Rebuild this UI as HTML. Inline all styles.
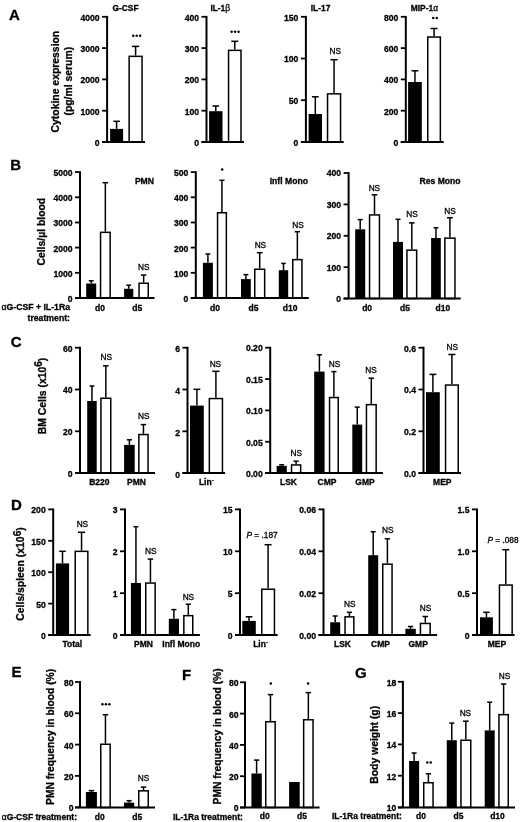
<!DOCTYPE html>
<html><head><meta charset="utf-8"><style>
html,body{margin:0;padding:0;background:#fff;overflow:hidden;width:520px;height:822px;}
svg{display:block;filter:blur(0.35px);}
</style></head><body>
<svg width="520" height="822" viewBox="0 0 520 822" font-family="'Liberation Sans', sans-serif" font-weight="bold" fill="#000" stroke="#000">
<g stroke="#000">
<text stroke="#000" stroke-width="0.3" x="14.5" y="19.82" text-anchor="middle" font-size="15">A</text>
<text stroke="#000" stroke-width="0.3" transform="translate(55.9,81.6) rotate(-90)" x="0" y="3.59" text-anchor="middle" font-size="10.4">Cytokine expression</text>
<text stroke="#000" stroke-width="0.3" transform="translate(68.8,81.2) rotate(-90)" x="0" y="3.59" text-anchor="middle" font-size="10.4">(pg/ml serum)</text>
<line x1="102.1" y1="16.8" x2="107.1" y2="16.8" stroke-width="1.8"/>
<text stroke="#000" stroke-width="0.3" x="99.6" y="20.77" text-anchor="end" font-size="8.6">4000</text>
<line x1="102.1" y1="48.1" x2="107.1" y2="48.1" stroke-width="1.8"/>
<text stroke="#000" stroke-width="0.3" x="99.6" y="52.07" text-anchor="end" font-size="8.6">3000</text>
<line x1="102.1" y1="79.4" x2="107.1" y2="79.4" stroke-width="1.8"/>
<text stroke="#000" stroke-width="0.3" x="99.6" y="83.37" text-anchor="end" font-size="8.6">2000</text>
<line x1="102.1" y1="110.7" x2="107.1" y2="110.7" stroke-width="1.8"/>
<text stroke="#000" stroke-width="0.3" x="99.6" y="114.67" text-anchor="end" font-size="8.6">1000</text>
<line x1="102.1" y1="142" x2="107.1" y2="142" stroke-width="1.8"/>
<text stroke="#000" stroke-width="0.3" x="99.6" y="145.97" text-anchor="end" font-size="8.6">0</text>
<line x1="116.6" y1="121.3" x2="116.6" y2="128.9" stroke-width="1.5"/>
<line x1="113.35" y1="121.3" x2="119.85" y2="121.3" stroke-width="1.5"/>
<rect x="110.1" y="128.9" width="13" height="13.1" fill="#000" stroke="none"/>
<line x1="135.6" y1="46.4" x2="135.6" y2="55.6" stroke-width="1.5"/>
<line x1="132" y1="46.4" x2="139.2" y2="46.4" stroke-width="1.5"/>
<rect x="129.15" y="56.35" width="12.9" height="85.65" fill="#fff" stroke-width="1.5"/>
<line x1="107.1" y1="15.9" x2="107.1" y2="142" stroke-width="2.0"/>
<line x1="102.1" y1="142" x2="145" y2="142" stroke-width="2.0"/>
<text stroke="#000" stroke-width="0.3" x="125.5" y="10.8" text-anchor="middle" font-size="8.4">G-CSF</text>
<circle cx="133.25" cy="35.8" r="1.25" stroke="none"/>
<circle cx="136.7" cy="35.8" r="1.25" stroke="none"/>
<circle cx="140.15" cy="35.8" r="1.25" stroke="none"/>
<line x1="201.5" y1="16.8" x2="206.5" y2="16.8" stroke-width="1.8"/>
<text stroke="#000" stroke-width="0.3" x="199" y="20.77" text-anchor="end" font-size="8.6">400</text>
<line x1="201.5" y1="48.1" x2="206.5" y2="48.1" stroke-width="1.8"/>
<text stroke="#000" stroke-width="0.3" x="199" y="52.07" text-anchor="end" font-size="8.6">300</text>
<line x1="201.5" y1="79.4" x2="206.5" y2="79.4" stroke-width="1.8"/>
<text stroke="#000" stroke-width="0.3" x="199" y="83.37" text-anchor="end" font-size="8.6">200</text>
<line x1="201.5" y1="110.7" x2="206.5" y2="110.7" stroke-width="1.8"/>
<text stroke="#000" stroke-width="0.3" x="199" y="114.67" text-anchor="end" font-size="8.6">100</text>
<line x1="201.5" y1="142" x2="206.5" y2="142" stroke-width="1.8"/>
<text stroke="#000" stroke-width="0.3" x="199" y="145.97" text-anchor="end" font-size="8.6">0</text>
<line x1="215.8" y1="106" x2="215.8" y2="111.2" stroke-width="1.5"/>
<line x1="212.45" y1="106" x2="219.15" y2="106" stroke-width="1.5"/>
<rect x="209.1" y="111.2" width="13.4" height="30.8" fill="#000" stroke="none"/>
<line x1="234.78" y1="41.3" x2="234.78" y2="49.6" stroke-width="1.5"/>
<line x1="231.29" y1="41.3" x2="238.26" y2="41.3" stroke-width="1.5"/>
<rect x="228.55" y="50.35" width="12.45" height="91.65" fill="#fff" stroke-width="1.5"/>
<line x1="206.5" y1="15.9" x2="206.5" y2="142" stroke-width="2.0"/>
<line x1="201.5" y1="142" x2="244" y2="142" stroke-width="2.0"/>
<text stroke="#000" stroke-width="0.3" x="210.4" y="10.8" text-anchor="start" font-size="8.4">IL-1<tspan font-weight="normal">β</tspan></text>
<circle cx="231.65" cy="31.8" r="1.25" stroke="none"/>
<circle cx="235.1" cy="31.8" r="1.25" stroke="none"/>
<circle cx="238.55" cy="31.8" r="1.25" stroke="none"/>
<line x1="300.9" y1="16.8" x2="305.9" y2="16.8" stroke-width="1.8"/>
<text stroke="#000" stroke-width="0.3" x="298.4" y="20.77" text-anchor="end" font-size="8.6">150</text>
<line x1="300.9" y1="58.5" x2="305.9" y2="58.5" stroke-width="1.8"/>
<text stroke="#000" stroke-width="0.3" x="298.4" y="62.47" text-anchor="end" font-size="8.6">100</text>
<line x1="300.9" y1="100.2" x2="305.9" y2="100.2" stroke-width="1.8"/>
<text stroke="#000" stroke-width="0.3" x="298.4" y="104.17" text-anchor="end" font-size="8.6">50</text>
<line x1="300.9" y1="142" x2="305.9" y2="142" stroke-width="1.8"/>
<text stroke="#000" stroke-width="0.3" x="298.4" y="145.97" text-anchor="end" font-size="8.6">0</text>
<line x1="315.3" y1="96.8" x2="315.3" y2="114" stroke-width="1.5"/>
<line x1="311.95" y1="96.8" x2="318.65" y2="96.8" stroke-width="1.5"/>
<rect x="308.6" y="114" width="13.4" height="28" fill="#000" stroke="none"/>
<line x1="334.05" y1="59.7" x2="334.05" y2="93.1" stroke-width="1.5"/>
<line x1="330.43" y1="59.7" x2="337.68" y2="59.7" stroke-width="1.5"/>
<rect x="327.55" y="93.85" width="13" height="48.15" fill="#fff" stroke-width="1.5"/>
<line x1="305.9" y1="15.9" x2="305.9" y2="142" stroke-width="2.0"/>
<line x1="300.9" y1="142" x2="343.7" y2="142" stroke-width="2.0"/>
<text stroke="#000" stroke-width="0.3" x="310.8" y="10.8" text-anchor="start" font-size="8.4">IL-17</text>
<text stroke="#000" stroke-width="0.3" x="335.2" y="54.26" text-anchor="middle" font-size="8.3" font-weight="normal">NS</text>
<line x1="400.8" y1="16.8" x2="405.8" y2="16.8" stroke-width="1.8"/>
<text stroke="#000" stroke-width="0.3" x="398.3" y="20.77" text-anchor="end" font-size="8.6">800</text>
<line x1="400.8" y1="48.1" x2="405.8" y2="48.1" stroke-width="1.8"/>
<text stroke="#000" stroke-width="0.3" x="398.3" y="52.07" text-anchor="end" font-size="8.6">600</text>
<line x1="400.8" y1="79.4" x2="405.8" y2="79.4" stroke-width="1.8"/>
<text stroke="#000" stroke-width="0.3" x="398.3" y="83.37" text-anchor="end" font-size="8.6">400</text>
<line x1="400.8" y1="110.7" x2="405.8" y2="110.7" stroke-width="1.8"/>
<text stroke="#000" stroke-width="0.3" x="398.3" y="114.67" text-anchor="end" font-size="8.6">200</text>
<line x1="400.8" y1="142" x2="405.8" y2="142" stroke-width="1.8"/>
<text stroke="#000" stroke-width="0.3" x="398.3" y="145.97" text-anchor="end" font-size="8.6">0</text>
<line x1="414.95" y1="70.8" x2="414.95" y2="82" stroke-width="1.5"/>
<line x1="411.53" y1="70.8" x2="418.38" y2="70.8" stroke-width="1.5"/>
<rect x="408.1" y="82" width="13.7" height="60" fill="#000" stroke="none"/>
<line x1="434.05" y1="28.5" x2="434.05" y2="36.3" stroke-width="1.5"/>
<line x1="430.52" y1="28.5" x2="437.58" y2="28.5" stroke-width="1.5"/>
<rect x="427.75" y="37.05" width="12.6" height="104.95" fill="#fff" stroke-width="1.5"/>
<line x1="405.8" y1="15.9" x2="405.8" y2="142" stroke-width="2.0"/>
<line x1="400.8" y1="142" x2="443.7" y2="142" stroke-width="2.0"/>
<text stroke="#000" stroke-width="0.3" x="410.8" y="10.8" text-anchor="start" font-size="8.4">MIP-1<tspan font-weight="normal">α</tspan></text>
<circle cx="433.27" cy="18" r="1.25" stroke="none"/>
<circle cx="436.72" cy="18" r="1.25" stroke="none"/>
<text stroke="#000" stroke-width="0.3" x="15.7" y="169.83" text-anchor="middle" font-size="15">B</text>
<text stroke="#000" stroke-width="0.3" transform="translate(41.7,231.7) rotate(-90)" x="0" y="3.59" text-anchor="middle" font-size="10.4">Cells/µl blood</text>
<line x1="75" y1="172.1" x2="80" y2="172.1" stroke-width="1.8"/>
<text stroke="#000" stroke-width="0.3" x="72.5" y="176.07" text-anchor="end" font-size="8.6">5000</text>
<line x1="75" y1="197.3" x2="80" y2="197.3" stroke-width="1.8"/>
<text stroke="#000" stroke-width="0.3" x="72.5" y="201.27" text-anchor="end" font-size="8.6">4000</text>
<line x1="75" y1="222.5" x2="80" y2="222.5" stroke-width="1.8"/>
<text stroke="#000" stroke-width="0.3" x="72.5" y="226.47" text-anchor="end" font-size="8.6">3000</text>
<line x1="75" y1="247.6" x2="80" y2="247.6" stroke-width="1.8"/>
<text stroke="#000" stroke-width="0.3" x="72.5" y="251.57" text-anchor="end" font-size="8.6">2000</text>
<line x1="75" y1="272.8" x2="80" y2="272.8" stroke-width="1.8"/>
<text stroke="#000" stroke-width="0.3" x="72.5" y="276.77" text-anchor="end" font-size="8.6">1000</text>
<line x1="75" y1="297.9" x2="80" y2="297.9" stroke-width="1.8"/>
<text stroke="#000" stroke-width="0.3" x="72.5" y="301.87" text-anchor="end" font-size="8.6">0</text>
<line x1="91.2" y1="280.8" x2="91.2" y2="283.5" stroke-width="1.5"/>
<line x1="88.7" y1="280.8" x2="93.7" y2="280.8" stroke-width="1.5"/>
<rect x="86.2" y="283.5" width="10" height="14.4" fill="#000" stroke="none"/>
<line x1="105.35" y1="182.7" x2="105.35" y2="231.6" stroke-width="1.5"/>
<line x1="102.57" y1="182.7" x2="108.12" y2="182.7" stroke-width="1.5"/>
<rect x="100.55" y="232.35" width="9.6" height="65.55" fill="#fff" stroke-width="1.5"/>
<line x1="128.7" y1="285.2" x2="128.7" y2="288.8" stroke-width="1.5"/>
<line x1="126.4" y1="285.2" x2="131" y2="285.2" stroke-width="1.5"/>
<rect x="124.1" y="288.8" width="9.2" height="9.1" fill="#000" stroke="none"/>
<line x1="143.65" y1="275.1" x2="143.65" y2="282.5" stroke-width="1.5"/>
<line x1="140.98" y1="275.1" x2="146.32" y2="275.1" stroke-width="1.5"/>
<rect x="139.05" y="283.25" width="9.2" height="14.65" fill="#fff" stroke-width="1.5"/>
<line x1="80" y1="171.2" x2="80" y2="297.9" stroke-width="2.0"/>
<line x1="75" y1="297.9" x2="154.5" y2="297.9" stroke-width="2.0"/>
<text stroke="#000" stroke-width="0.3" x="143.8" y="269.86" text-anchor="middle" font-size="8.3" font-weight="normal">NS</text>
<text stroke="#000" stroke-width="0.3" x="154" y="183.77" text-anchor="end" font-size="8.6">PMN</text>
<text stroke="#000" stroke-width="0.3" x="100" y="310.63" text-anchor="middle" font-size="8.5">d0</text>
<text stroke="#000" stroke-width="0.3" x="137.3" y="310.63" text-anchor="middle" font-size="8.5">d5</text>
<line x1="190.8" y1="172.1" x2="195.8" y2="172.1" stroke-width="1.8"/>
<text stroke="#000" stroke-width="0.3" x="188.3" y="176.07" text-anchor="end" font-size="8.6">500</text>
<line x1="190.8" y1="197.3" x2="195.8" y2="197.3" stroke-width="1.8"/>
<text stroke="#000" stroke-width="0.3" x="188.3" y="201.27" text-anchor="end" font-size="8.6">400</text>
<line x1="190.8" y1="222.5" x2="195.8" y2="222.5" stroke-width="1.8"/>
<text stroke="#000" stroke-width="0.3" x="188.3" y="226.47" text-anchor="end" font-size="8.6">300</text>
<line x1="190.8" y1="247.6" x2="195.8" y2="247.6" stroke-width="1.8"/>
<text stroke="#000" stroke-width="0.3" x="188.3" y="251.57" text-anchor="end" font-size="8.6">200</text>
<line x1="190.8" y1="272.8" x2="195.8" y2="272.8" stroke-width="1.8"/>
<text stroke="#000" stroke-width="0.3" x="188.3" y="276.77" text-anchor="end" font-size="8.6">100</text>
<line x1="190.8" y1="297.9" x2="195.8" y2="297.9" stroke-width="1.8"/>
<text stroke="#000" stroke-width="0.3" x="188.3" y="301.87" text-anchor="end" font-size="8.6">0</text>
<line x1="207.9" y1="254" x2="207.9" y2="262.8" stroke-width="1.5"/>
<line x1="205.4" y1="254" x2="210.4" y2="254" stroke-width="1.5"/>
<rect x="202.9" y="262.8" width="10" height="35.1" fill="#000" stroke="none"/>
<line x1="221.95" y1="180.3" x2="221.95" y2="212" stroke-width="1.5"/>
<line x1="219.38" y1="180.3" x2="224.52" y2="180.3" stroke-width="1.5"/>
<rect x="217.55" y="212.75" width="8.8" height="85.15" fill="#fff" stroke-width="1.5"/>
<line x1="245.9" y1="274.6" x2="245.9" y2="279.1" stroke-width="1.5"/>
<line x1="243.45" y1="274.6" x2="248.35" y2="274.6" stroke-width="1.5"/>
<rect x="241" y="279.1" width="9.8" height="18.8" fill="#000" stroke="none"/>
<line x1="259.7" y1="252.7" x2="259.7" y2="268.5" stroke-width="1.5"/>
<line x1="256.85" y1="252.7" x2="262.55" y2="252.7" stroke-width="1.5"/>
<rect x="254.75" y="269.25" width="9.9" height="28.65" fill="#fff" stroke-width="1.5"/>
<line x1="283.5" y1="263.4" x2="283.5" y2="270.2" stroke-width="1.5"/>
<line x1="281.15" y1="263.4" x2="285.85" y2="263.4" stroke-width="1.5"/>
<rect x="278.8" y="270.2" width="9.4" height="27.7" fill="#000" stroke="none"/>
<line x1="297.35" y1="231.7" x2="297.35" y2="258.9" stroke-width="1.5"/>
<line x1="294.68" y1="231.7" x2="300.03" y2="231.7" stroke-width="1.5"/>
<rect x="292.75" y="259.65" width="9.2" height="38.25" fill="#fff" stroke-width="1.5"/>
<line x1="195.8" y1="171.2" x2="195.8" y2="297.9" stroke-width="2.0"/>
<line x1="190.8" y1="297.9" x2="308.8" y2="297.9" stroke-width="2.0"/>
<circle cx="222.2" cy="169.5" r="1.25" stroke="none"/>
<text stroke="#000" stroke-width="0.3" x="260.4" y="248.36" text-anchor="middle" font-size="8.3" font-weight="normal">NS</text>
<text stroke="#000" stroke-width="0.3" x="298" y="228.06" text-anchor="middle" font-size="8.3" font-weight="normal">NS</text>
<text stroke="#000" stroke-width="0.3" x="307.9" y="184.37" text-anchor="end" font-size="8.6">Infl Mono</text>
<text stroke="#000" stroke-width="0.3" x="214.9" y="310.63" text-anchor="middle" font-size="8.5">d0</text>
<text stroke="#000" stroke-width="0.3" x="253.4" y="310.63" text-anchor="middle" font-size="8.5">d5</text>
<text stroke="#000" stroke-width="0.3" x="290.1" y="310.63" text-anchor="middle" font-size="8.5">d10</text>
<line x1="343.6" y1="173" x2="348.6" y2="173" stroke-width="1.8"/>
<text stroke="#000" stroke-width="0.3" x="341.1" y="176.37" text-anchor="end" font-size="8.6">400</text>
<line x1="343.6" y1="204.4" x2="348.6" y2="204.4" stroke-width="1.8"/>
<text stroke="#000" stroke-width="0.3" x="341.1" y="207.77" text-anchor="end" font-size="8.6">300</text>
<line x1="343.6" y1="235.8" x2="348.6" y2="235.8" stroke-width="1.8"/>
<text stroke="#000" stroke-width="0.3" x="341.1" y="239.17" text-anchor="end" font-size="8.6">200</text>
<line x1="343.6" y1="267.2" x2="348.6" y2="267.2" stroke-width="1.8"/>
<text stroke="#000" stroke-width="0.3" x="341.1" y="270.57" text-anchor="end" font-size="8.6">100</text>
<line x1="343.6" y1="298.5" x2="348.6" y2="298.5" stroke-width="1.8"/>
<text stroke="#000" stroke-width="0.3" x="341.1" y="301.87" text-anchor="end" font-size="8.6">0</text>
<line x1="360.2" y1="219.6" x2="360.2" y2="229.3" stroke-width="1.5"/>
<line x1="357.7" y1="219.6" x2="362.7" y2="219.6" stroke-width="1.5"/>
<rect x="355.2" y="229.3" width="10" height="69.2" fill="#000" stroke="none"/>
<line x1="374.5" y1="194.8" x2="374.5" y2="214.2" stroke-width="1.5"/>
<line x1="371.65" y1="194.8" x2="377.35" y2="194.8" stroke-width="1.5"/>
<rect x="369.55" y="214.95" width="9.9" height="83.55" fill="#fff" stroke-width="1.5"/>
<line x1="398" y1="219.3" x2="398" y2="241.9" stroke-width="1.5"/>
<line x1="395.5" y1="219.3" x2="400.5" y2="219.3" stroke-width="1.5"/>
<rect x="393" y="241.9" width="10" height="56.6" fill="#000" stroke="none"/>
<line x1="411.8" y1="222.9" x2="411.8" y2="249.4" stroke-width="1.5"/>
<line x1="409" y1="222.9" x2="414.6" y2="222.9" stroke-width="1.5"/>
<rect x="406.95" y="250.15" width="9.7" height="48.35" fill="#fff" stroke-width="1.5"/>
<line x1="435.95" y1="227.8" x2="435.95" y2="238" stroke-width="1.5"/>
<line x1="433.53" y1="227.8" x2="438.38" y2="227.8" stroke-width="1.5"/>
<rect x="431.1" y="238" width="9.7" height="60.5" fill="#000" stroke="none"/>
<line x1="449.9" y1="217.7" x2="449.9" y2="237.4" stroke-width="1.5"/>
<line x1="447" y1="217.7" x2="452.8" y2="217.7" stroke-width="1.5"/>
<rect x="444.85" y="238.15" width="10.1" height="60.35" fill="#fff" stroke-width="1.5"/>
<line x1="348.6" y1="172.1" x2="348.6" y2="298.5" stroke-width="2.0"/>
<line x1="343.6" y1="298.5" x2="460.7" y2="298.5" stroke-width="2.0"/>
<text stroke="#000" stroke-width="0.3" x="374.4" y="190.56" text-anchor="middle" font-size="8.3" font-weight="normal">NS</text>
<text stroke="#000" stroke-width="0.3" x="412" y="217.36" text-anchor="middle" font-size="8.3" font-weight="normal">NS</text>
<text stroke="#000" stroke-width="0.3" x="450" y="213.56" text-anchor="middle" font-size="8.3" font-weight="normal">NS</text>
<text stroke="#000" stroke-width="0.3" x="460.6" y="183.97" text-anchor="end" font-size="8.6">Res Mono</text>
<text stroke="#000" stroke-width="0.3" x="367.1" y="310.63" text-anchor="middle" font-size="8.5">d0</text>
<text stroke="#000" stroke-width="0.3" x="404.9" y="310.63" text-anchor="middle" font-size="8.5">d5</text>
<text stroke="#000" stroke-width="0.3" x="442.8" y="310.63" text-anchor="middle" font-size="8.5">d10</text>
<text stroke="#000" stroke-width="0.3" x="70" y="310.2" text-anchor="end" font-size="8.7"><tspan font-weight="normal">α</tspan>G-CSF + IL-1Ra</text>
<text stroke="#000" stroke-width="0.3" x="70" y="321.4" text-anchor="end" font-size="8.7">treatment:</text>
<text stroke="#000" stroke-width="0.3" x="16.2" y="347.03" text-anchor="middle" font-size="15">C</text>
<text stroke="#000" stroke-width="0.3" transform="translate(42.2,396) rotate(-90)" x="0" y="3.59" text-anchor="middle" font-size="10.4">BM Cells (x10<tspan dy="-3.3" font-size="10">6</tspan><tspan dy="3.3">)</tspan></text>
<line x1="75" y1="347.7" x2="80" y2="347.7" stroke-width="1.8"/>
<text stroke="#000" stroke-width="0.3" x="72.5" y="351.67" text-anchor="end" font-size="8.6">60</text>
<line x1="75" y1="389.5" x2="80" y2="389.5" stroke-width="1.8"/>
<text stroke="#000" stroke-width="0.3" x="72.5" y="393.47" text-anchor="end" font-size="8.6">40</text>
<line x1="75" y1="431.3" x2="80" y2="431.3" stroke-width="1.8"/>
<text stroke="#000" stroke-width="0.3" x="72.5" y="435.27" text-anchor="end" font-size="8.6">20</text>
<line x1="75" y1="473.1" x2="80" y2="473.1" stroke-width="1.8"/>
<text stroke="#000" stroke-width="0.3" x="72.5" y="477.07" text-anchor="end" font-size="8.6">0</text>
<line x1="91.95" y1="386" x2="91.95" y2="401" stroke-width="1.5"/>
<line x1="89.58" y1="386" x2="94.33" y2="386" stroke-width="1.5"/>
<rect x="87.2" y="401" width="9.5" height="72.1" fill="#000" stroke="none"/>
<line x1="105.85" y1="365.8" x2="105.85" y2="397.5" stroke-width="1.5"/>
<line x1="103.02" y1="365.8" x2="108.67" y2="365.8" stroke-width="1.5"/>
<rect x="100.95" y="398.25" width="9.8" height="74.85" fill="#fff" stroke-width="1.5"/>
<line x1="129.4" y1="439.8" x2="129.4" y2="444.9" stroke-width="1.5"/>
<line x1="126.75" y1="439.8" x2="132.05" y2="439.8" stroke-width="1.5"/>
<rect x="124.1" y="444.9" width="10.6" height="28.2" fill="#000" stroke="none"/>
<line x1="143.45" y1="424.6" x2="143.45" y2="433.8" stroke-width="1.5"/>
<line x1="140.77" y1="424.6" x2="146.12" y2="424.6" stroke-width="1.5"/>
<rect x="138.85" y="434.55" width="9.2" height="38.55" fill="#fff" stroke-width="1.5"/>
<line x1="80" y1="346.8" x2="80" y2="473.1" stroke-width="2.0"/>
<line x1="75" y1="473.1" x2="155" y2="473.1" stroke-width="2.0"/>
<text stroke="#000" stroke-width="0.3" x="106.2" y="360.36" text-anchor="middle" font-size="8.3" font-weight="normal">NS</text>
<text stroke="#000" stroke-width="0.3" x="143.8" y="419.16" text-anchor="middle" font-size="8.3" font-weight="normal">NS</text>
<text stroke="#000" stroke-width="0.3" x="99.3" y="484.73" text-anchor="middle" font-size="8.5">B220</text>
<text stroke="#000" stroke-width="0.3" x="136.5" y="484.73" text-anchor="middle" font-size="8.5">PMN</text>
<line x1="182.5" y1="347.7" x2="187.5" y2="347.7" stroke-width="1.8"/>
<text stroke="#000" stroke-width="0.3" x="180" y="352.37" text-anchor="end" font-size="8.6">6</text>
<line x1="182.5" y1="389.5" x2="187.5" y2="389.5" stroke-width="1.8"/>
<text stroke="#000" stroke-width="0.3" x="180" y="394.17" text-anchor="end" font-size="8.6">4</text>
<line x1="182.5" y1="431.3" x2="187.5" y2="431.3" stroke-width="1.8"/>
<text stroke="#000" stroke-width="0.3" x="180" y="435.97" text-anchor="end" font-size="8.6">2</text>
<line x1="182.5" y1="473.1" x2="187.5" y2="473.1" stroke-width="1.8"/>
<text stroke="#000" stroke-width="0.3" x="180" y="477.77" text-anchor="end" font-size="8.6">0</text>
<line x1="196.9" y1="389.3" x2="196.9" y2="405.6" stroke-width="1.5"/>
<line x1="193.45" y1="389.3" x2="200.35" y2="389.3" stroke-width="1.5"/>
<rect x="190" y="405.6" width="13.8" height="67.5" fill="#000" stroke="none"/>
<line x1="215.9" y1="371.3" x2="215.9" y2="397.8" stroke-width="1.5"/>
<line x1="212.25" y1="371.3" x2="219.55" y2="371.3" stroke-width="1.5"/>
<rect x="209.35" y="398.55" width="13.1" height="74.55" fill="#fff" stroke-width="1.5"/>
<line x1="187.5" y1="346.8" x2="187.5" y2="473.1" stroke-width="2.0"/>
<line x1="182.5" y1="473.1" x2="225.1" y2="473.1" stroke-width="2.0"/>
<text stroke="#000" stroke-width="0.3" x="215.4" y="366.56" text-anchor="middle" font-size="8.3" font-weight="normal">NS</text>
<text stroke="#000" stroke-width="0.3" x="206.3" y="484.73" text-anchor="middle" font-size="8.5">Lin<tspan dy="-3" font-size="6">-</tspan></text>
<line x1="265.2" y1="347.7" x2="270.2" y2="347.7" stroke-width="1.8"/>
<text stroke="#000" stroke-width="0.3" x="262.7" y="351.47" text-anchor="end" font-size="8.6">0.20</text>
<line x1="265.2" y1="379.05" x2="270.2" y2="379.05" stroke-width="1.8"/>
<text stroke="#000" stroke-width="0.3" x="262.7" y="382.82" text-anchor="end" font-size="8.6">0.15</text>
<line x1="265.2" y1="410.4" x2="270.2" y2="410.4" stroke-width="1.8"/>
<text stroke="#000" stroke-width="0.3" x="262.7" y="414.17" text-anchor="end" font-size="8.6">0.10</text>
<line x1="265.2" y1="441.75" x2="270.2" y2="441.75" stroke-width="1.8"/>
<text stroke="#000" stroke-width="0.3" x="262.7" y="445.52" text-anchor="end" font-size="8.6">0.05</text>
<line x1="265.2" y1="473.1" x2="270.2" y2="473.1" stroke-width="1.8"/>
<text stroke="#000" stroke-width="0.3" x="262.7" y="476.87" text-anchor="end" font-size="8.6">0.00</text>
<line x1="281.7" y1="464.8" x2="281.7" y2="465.9" stroke-width="1.5"/>
<line x1="279.15" y1="464.8" x2="284.25" y2="464.8" stroke-width="1.5"/>
<rect x="276.6" y="465.9" width="10.2" height="7.2" fill="#000" stroke="none"/>
<line x1="296.1" y1="461.2" x2="296.1" y2="464.2" stroke-width="1.5"/>
<line x1="293.45" y1="461.2" x2="298.75" y2="461.2" stroke-width="1.5"/>
<rect x="291.55" y="464.95" width="9.1" height="8.15" fill="#fff" stroke-width="1.5"/>
<line x1="319.4" y1="354.8" x2="319.4" y2="371.6" stroke-width="1.5"/>
<line x1="316.8" y1="354.8" x2="322" y2="354.8" stroke-width="1.5"/>
<rect x="314.2" y="371.6" width="10.4" height="101.5" fill="#000" stroke="none"/>
<line x1="333.9" y1="371.6" x2="333.9" y2="396.8" stroke-width="1.5"/>
<line x1="331.35" y1="371.6" x2="336.45" y2="371.6" stroke-width="1.5"/>
<rect x="329.55" y="397.55" width="8.7" height="75.55" fill="#fff" stroke-width="1.5"/>
<line x1="357.25" y1="407.1" x2="357.25" y2="424.6" stroke-width="1.5"/>
<line x1="354.77" y1="407.1" x2="359.73" y2="407.1" stroke-width="1.5"/>
<rect x="352.3" y="424.6" width="9.9" height="48.5" fill="#000" stroke="none"/>
<line x1="371.3" y1="378.2" x2="371.3" y2="403.9" stroke-width="1.5"/>
<line x1="368.5" y1="378.2" x2="374.1" y2="378.2" stroke-width="1.5"/>
<rect x="366.45" y="404.65" width="9.7" height="68.45" fill="#fff" stroke-width="1.5"/>
<line x1="270.2" y1="346.8" x2="270.2" y2="473.1" stroke-width="2.0"/>
<line x1="265.2" y1="473.1" x2="382.9" y2="473.1" stroke-width="2.0"/>
<text stroke="#000" stroke-width="0.3" x="296.3" y="456.36" text-anchor="middle" font-size="8.3" font-weight="normal">NS</text>
<text stroke="#000" stroke-width="0.3" x="334.5" y="366.86" text-anchor="middle" font-size="8.3" font-weight="normal">NS</text>
<text stroke="#000" stroke-width="0.3" x="371.1" y="373.06" text-anchor="middle" font-size="8.3" font-weight="normal">NS</text>
<text stroke="#000" stroke-width="0.3" x="288.5" y="484.73" text-anchor="middle" font-size="8.5">LSK</text>
<text stroke="#000" stroke-width="0.3" x="327" y="484.73" text-anchor="middle" font-size="8.5">CMP</text>
<text stroke="#000" stroke-width="0.3" x="365" y="484.73" text-anchor="middle" font-size="8.5">GMP</text>
<line x1="418.5" y1="347.7" x2="423.5" y2="347.7" stroke-width="1.8"/>
<text stroke="#000" stroke-width="0.3" x="416" y="351.67" text-anchor="end" font-size="8.6">0.6</text>
<line x1="418.5" y1="389.5" x2="423.5" y2="389.5" stroke-width="1.8"/>
<text stroke="#000" stroke-width="0.3" x="416" y="393.47" text-anchor="end" font-size="8.6">0.4</text>
<line x1="418.5" y1="431.3" x2="423.5" y2="431.3" stroke-width="1.8"/>
<text stroke="#000" stroke-width="0.3" x="416" y="435.27" text-anchor="end" font-size="8.6">0.2</text>
<line x1="418.5" y1="473.1" x2="423.5" y2="473.1" stroke-width="1.8"/>
<text stroke="#000" stroke-width="0.3" x="416" y="477.07" text-anchor="end" font-size="8.6">0.0</text>
<line x1="432.9" y1="374.4" x2="432.9" y2="392.2" stroke-width="1.5"/>
<line x1="429.45" y1="374.4" x2="436.35" y2="374.4" stroke-width="1.5"/>
<rect x="426" y="392.2" width="13.8" height="80.9" fill="#000" stroke="none"/>
<line x1="451.9" y1="354.5" x2="451.9" y2="384.3" stroke-width="1.5"/>
<line x1="448.35" y1="354.5" x2="455.45" y2="354.5" stroke-width="1.5"/>
<rect x="445.55" y="385.05" width="12.7" height="88.05" fill="#fff" stroke-width="1.5"/>
<line x1="423.5" y1="346.8" x2="423.5" y2="473.1" stroke-width="2.0"/>
<line x1="418.5" y1="473.1" x2="461.1" y2="473.1" stroke-width="2.0"/>
<text stroke="#000" stroke-width="0.3" x="452.2" y="350.06" text-anchor="middle" font-size="8.3" font-weight="normal">NS</text>
<text stroke="#000" stroke-width="0.3" x="442.3" y="484.53" text-anchor="middle" font-size="8.5">MEP</text>
<text stroke="#000" stroke-width="0.3" x="16.5" y="510.38" text-anchor="middle" font-size="15">D</text>
<text stroke="#000" stroke-width="0.3" transform="translate(20.6,574) rotate(-90)" x="0" y="3.59" text-anchor="middle" font-size="10.4">Cells/spleen (x10<tspan dy="-3.3" font-size="10">6</tspan><tspan dy="3.3">)</tspan></text>
<line x1="48.2" y1="509.4" x2="53.2" y2="509.4" stroke-width="1.8"/>
<text stroke="#000" stroke-width="0.3" x="45.7" y="513.37" text-anchor="end" font-size="8.6">200</text>
<line x1="48.2" y1="540.8" x2="53.2" y2="540.8" stroke-width="1.8"/>
<text stroke="#000" stroke-width="0.3" x="45.7" y="544.77" text-anchor="end" font-size="8.6">150</text>
<line x1="48.2" y1="572.2" x2="53.2" y2="572.2" stroke-width="1.8"/>
<text stroke="#000" stroke-width="0.3" x="45.7" y="576.17" text-anchor="end" font-size="8.6">100</text>
<line x1="48.2" y1="603.6" x2="53.2" y2="603.6" stroke-width="1.8"/>
<text stroke="#000" stroke-width="0.3" x="45.7" y="607.57" text-anchor="end" font-size="8.6">50</text>
<line x1="48.2" y1="635" x2="53.2" y2="635" stroke-width="1.8"/>
<text stroke="#000" stroke-width="0.3" x="45.7" y="638.97" text-anchor="end" font-size="8.6">0</text>
<line x1="62.5" y1="551.3" x2="62.5" y2="563.4" stroke-width="1.5"/>
<line x1="59.2" y1="551.3" x2="65.8" y2="551.3" stroke-width="1.5"/>
<rect x="55.9" y="563.4" width="13.2" height="71.6" fill="#000" stroke="none"/>
<line x1="81.55" y1="532.3" x2="81.55" y2="550.6" stroke-width="1.5"/>
<line x1="78.03" y1="532.3" x2="85.07" y2="532.3" stroke-width="1.5"/>
<rect x="75.25" y="551.35" width="12.6" height="83.65" fill="#fff" stroke-width="1.5"/>
<line x1="53.2" y1="508.5" x2="53.2" y2="635" stroke-width="2.0"/>
<line x1="48.2" y1="635" x2="90.6" y2="635" stroke-width="2.0"/>
<text stroke="#000" stroke-width="0.3" x="82.4" y="527.46" text-anchor="middle" font-size="8.3" font-weight="normal">NS</text>
<text stroke="#000" stroke-width="0.3" x="72.3" y="647.13" text-anchor="middle" font-size="8.5">Total</text>
<line x1="120" y1="509.4" x2="125" y2="509.4" stroke-width="1.8"/>
<text stroke="#000" stroke-width="0.3" x="117.5" y="513.37" text-anchor="end" font-size="8.6">3</text>
<line x1="120" y1="551.3" x2="125" y2="551.3" stroke-width="1.8"/>
<text stroke="#000" stroke-width="0.3" x="117.5" y="555.27" text-anchor="end" font-size="8.6">2</text>
<line x1="120" y1="593.2" x2="125" y2="593.2" stroke-width="1.8"/>
<text stroke="#000" stroke-width="0.3" x="117.5" y="597.17" text-anchor="end" font-size="8.6">1</text>
<line x1="120" y1="635" x2="125" y2="635" stroke-width="1.8"/>
<text stroke="#000" stroke-width="0.3" x="117.5" y="638.97" text-anchor="end" font-size="8.6">0</text>
<line x1="135.95" y1="526.7" x2="135.95" y2="583" stroke-width="1.5"/>
<line x1="133.42" y1="526.7" x2="138.47" y2="526.7" stroke-width="1.5"/>
<rect x="130.9" y="583" width="10.1" height="52" fill="#000" stroke="none"/>
<line x1="150.45" y1="559.1" x2="150.45" y2="582.3" stroke-width="1.5"/>
<line x1="147.72" y1="559.1" x2="153.17" y2="559.1" stroke-width="1.5"/>
<rect x="145.75" y="583.05" width="9.4" height="51.95" fill="#fff" stroke-width="1.5"/>
<line x1="173.9" y1="609.6" x2="173.9" y2="618.75" stroke-width="1.5"/>
<line x1="171.35" y1="609.6" x2="176.45" y2="609.6" stroke-width="1.5"/>
<rect x="168.8" y="618.75" width="10.2" height="16.25" fill="#000" stroke="none"/>
<line x1="188.3" y1="604.2" x2="188.3" y2="614.9" stroke-width="1.5"/>
<line x1="185.7" y1="604.2" x2="190.9" y2="604.2" stroke-width="1.5"/>
<rect x="183.85" y="615.65" width="8.9" height="19.35" fill="#fff" stroke-width="1.5"/>
<line x1="125" y1="508.5" x2="125" y2="635" stroke-width="2.0"/>
<line x1="120" y1="635" x2="199.9" y2="635" stroke-width="2.0"/>
<text stroke="#000" stroke-width="0.3" x="150.7" y="554.16" text-anchor="middle" font-size="8.3" font-weight="normal">NS</text>
<text stroke="#000" stroke-width="0.3" x="188.4" y="599.86" text-anchor="middle" font-size="8.3" font-weight="normal">NS</text>
<text stroke="#000" stroke-width="0.3" x="143.5" y="647.13" text-anchor="middle" font-size="8.5">PMN</text>
<text stroke="#000" stroke-width="0.3" x="181.2" y="647.13" text-anchor="middle" font-size="8.5">Infl Mono</text>
<line x1="235" y1="509.4" x2="240" y2="509.4" stroke-width="1.8"/>
<text stroke="#000" stroke-width="0.3" x="232.5" y="513.37" text-anchor="end" font-size="8.6">15</text>
<line x1="235" y1="551.3" x2="240" y2="551.3" stroke-width="1.8"/>
<text stroke="#000" stroke-width="0.3" x="232.5" y="555.27" text-anchor="end" font-size="8.6">10</text>
<line x1="235" y1="593.2" x2="240" y2="593.2" stroke-width="1.8"/>
<text stroke="#000" stroke-width="0.3" x="232.5" y="597.17" text-anchor="end" font-size="8.6">5</text>
<line x1="235" y1="635" x2="240" y2="635" stroke-width="1.8"/>
<text stroke="#000" stroke-width="0.3" x="232.5" y="638.97" text-anchor="end" font-size="8.6">0</text>
<line x1="249.05" y1="616.8" x2="249.05" y2="620.9" stroke-width="1.5"/>
<line x1="245.68" y1="616.8" x2="252.43" y2="616.8" stroke-width="1.5"/>
<rect x="242.3" y="620.9" width="13.5" height="14.1" fill="#000" stroke="none"/>
<line x1="268.1" y1="544.7" x2="268.1" y2="588.5" stroke-width="1.5"/>
<line x1="264.55" y1="544.7" x2="271.65" y2="544.7" stroke-width="1.5"/>
<rect x="261.75" y="589.25" width="12.7" height="45.75" fill="#fff" stroke-width="1.5"/>
<line x1="240" y1="508.5" x2="240" y2="635" stroke-width="2.0"/>
<line x1="235" y1="635" x2="277.6" y2="635" stroke-width="2.0"/>
<text stroke="#000" stroke-width="0.3" x="262.1" y="538.26" text-anchor="middle" font-size="8.3" font-weight="normal"><tspan font-style="italic">P</tspan> = .187</text>
<text stroke="#000" stroke-width="0.3" x="260.5" y="647.13" text-anchor="middle" font-size="8.5">Lin<tspan dy="-3" font-size="6">-</tspan></text>
<line x1="318.5" y1="509.4" x2="323.5" y2="509.4" stroke-width="1.8"/>
<text stroke="#000" stroke-width="0.3" x="316" y="513.37" text-anchor="end" font-size="8.6">0.06</text>
<line x1="318.5" y1="551.3" x2="323.5" y2="551.3" stroke-width="1.8"/>
<text stroke="#000" stroke-width="0.3" x="316" y="555.27" text-anchor="end" font-size="8.6">0.04</text>
<line x1="318.5" y1="593.2" x2="323.5" y2="593.2" stroke-width="1.8"/>
<text stroke="#000" stroke-width="0.3" x="316" y="597.17" text-anchor="end" font-size="8.6">0.02</text>
<line x1="318.5" y1="635" x2="323.5" y2="635" stroke-width="1.8"/>
<text stroke="#000" stroke-width="0.3" x="316" y="638.97" text-anchor="end" font-size="8.6">0.00</text>
<line x1="335.2" y1="616" x2="335.2" y2="622.3" stroke-width="1.5"/>
<line x1="332.7" y1="616" x2="337.7" y2="616" stroke-width="1.5"/>
<rect x="330.2" y="622.3" width="10" height="12.7" fill="#000" stroke="none"/>
<line x1="349.45" y1="612.3" x2="349.45" y2="616.1" stroke-width="1.5"/>
<line x1="346.88" y1="612.3" x2="352.03" y2="612.3" stroke-width="1.5"/>
<rect x="345.05" y="616.85" width="8.8" height="18.15" fill="#fff" stroke-width="1.5"/>
<line x1="373.2" y1="531.7" x2="373.2" y2="555.2" stroke-width="1.5"/>
<line x1="370.7" y1="531.7" x2="375.7" y2="531.7" stroke-width="1.5"/>
<rect x="368.2" y="555.2" width="10" height="79.8" fill="#000" stroke="none"/>
<line x1="387.4" y1="538.8" x2="387.4" y2="563.4" stroke-width="1.5"/>
<line x1="384.7" y1="538.8" x2="390.1" y2="538.8" stroke-width="1.5"/>
<rect x="382.75" y="564.15" width="9.3" height="70.85" fill="#fff" stroke-width="1.5"/>
<line x1="410.6" y1="626.5" x2="410.6" y2="628.8" stroke-width="1.5"/>
<line x1="408" y1="626.5" x2="413.2" y2="626.5" stroke-width="1.5"/>
<rect x="405.4" y="628.8" width="10.4" height="6.2" fill="#000" stroke="none"/>
<line x1="425.3" y1="616.5" x2="425.3" y2="622.7" stroke-width="1.5"/>
<line x1="422.5" y1="616.5" x2="428.1" y2="616.5" stroke-width="1.5"/>
<rect x="420.45" y="623.45" width="9.7" height="11.55" fill="#fff" stroke-width="1.5"/>
<line x1="323.5" y1="508.5" x2="323.5" y2="635" stroke-width="2.0"/>
<line x1="318.5" y1="635" x2="437.1" y2="635" stroke-width="2.0"/>
<text stroke="#000" stroke-width="0.3" x="349.7" y="606.96" text-anchor="middle" font-size="8.3" font-weight="normal">NS</text>
<text stroke="#000" stroke-width="0.3" x="387.8" y="533.16" text-anchor="middle" font-size="8.3" font-weight="normal">NS</text>
<text stroke="#000" stroke-width="0.3" x="425.5" y="611.36" text-anchor="middle" font-size="8.3" font-weight="normal">NS</text>
<text stroke="#000" stroke-width="0.3" x="342.5" y="647.13" text-anchor="middle" font-size="8.5">LSK</text>
<text stroke="#000" stroke-width="0.3" x="380.5" y="647.13" text-anchor="middle" font-size="8.5">CMP</text>
<text stroke="#000" stroke-width="0.3" x="418.2" y="647.13" text-anchor="middle" font-size="8.5">GMP</text>
<line x1="472" y1="509.4" x2="477" y2="509.4" stroke-width="1.8"/>
<text stroke="#000" stroke-width="0.3" x="469.5" y="513.37" text-anchor="end" font-size="8.6">1.5</text>
<line x1="472" y1="551.3" x2="477" y2="551.3" stroke-width="1.8"/>
<text stroke="#000" stroke-width="0.3" x="469.5" y="555.27" text-anchor="end" font-size="8.6">1.0</text>
<line x1="472" y1="593.2" x2="477" y2="593.2" stroke-width="1.8"/>
<text stroke="#000" stroke-width="0.3" x="469.5" y="597.17" text-anchor="end" font-size="8.6">0.5</text>
<line x1="472" y1="635" x2="477" y2="635" stroke-width="1.8"/>
<text stroke="#000" stroke-width="0.3" x="469.5" y="638.97" text-anchor="end" font-size="8.6">0</text>
<line x1="486.45" y1="612.3" x2="486.45" y2="617.3" stroke-width="1.5"/>
<line x1="483.23" y1="612.3" x2="489.67" y2="612.3" stroke-width="1.5"/>
<rect x="480" y="617.3" width="12.9" height="17.7" fill="#000" stroke="none"/>
<line x1="505.8" y1="549.7" x2="505.8" y2="584.3" stroke-width="1.5"/>
<line x1="502.25" y1="549.7" x2="509.35" y2="549.7" stroke-width="1.5"/>
<rect x="499.45" y="585.05" width="12.7" height="49.95" fill="#fff" stroke-width="1.5"/>
<line x1="477" y1="508.5" x2="477" y2="635" stroke-width="2.0"/>
<line x1="472" y1="635" x2="514.6" y2="635" stroke-width="2.0"/>
<text stroke="#000" stroke-width="0.3" x="503" y="543.36" text-anchor="middle" font-size="8.3" font-weight="normal"><tspan font-style="italic">P</tspan> = .088</text>
<text stroke="#000" stroke-width="0.3" x="496.9" y="647.33" text-anchor="middle" font-size="8.5">MEP</text>
<text stroke="#000" stroke-width="0.3" x="16.4" y="676.67" text-anchor="middle" font-size="15">E</text>
<text stroke="#000" stroke-width="0.3" transform="translate(50.2,736.9) rotate(-90)" x="0" y="3.54" text-anchor="middle" font-size="10.25">PMN frequency in blood (%)</text>
<line x1="75" y1="682" x2="80" y2="682" stroke-width="1.8"/>
<text stroke="#000" stroke-width="0.3" x="73.5" y="685.97" text-anchor="end" font-size="8.6">80</text>
<line x1="75" y1="713.3" x2="80" y2="713.3" stroke-width="1.8"/>
<text stroke="#000" stroke-width="0.3" x="73.5" y="717.27" text-anchor="end" font-size="8.6">60</text>
<line x1="75" y1="744.6" x2="80" y2="744.6" stroke-width="1.8"/>
<text stroke="#000" stroke-width="0.3" x="73.5" y="748.57" text-anchor="end" font-size="8.6">40</text>
<line x1="75" y1="775.9" x2="80" y2="775.9" stroke-width="1.8"/>
<text stroke="#000" stroke-width="0.3" x="73.5" y="779.87" text-anchor="end" font-size="8.6">20</text>
<line x1="75" y1="807.3" x2="80" y2="807.3" stroke-width="1.8"/>
<text stroke="#000" stroke-width="0.3" x="73.5" y="811.27" text-anchor="end" font-size="8.6">0</text>
<line x1="91.4" y1="790.6" x2="91.4" y2="792" stroke-width="1.5"/>
<line x1="88.65" y1="790.6" x2="94.15" y2="790.6" stroke-width="1.5"/>
<rect x="85.9" y="792" width="11" height="15.5" fill="#000" stroke="none"/>
<line x1="105.45" y1="714.7" x2="105.45" y2="743.5" stroke-width="1.5"/>
<line x1="102.72" y1="714.7" x2="108.18" y2="714.7" stroke-width="1.5"/>
<rect x="100.75" y="744.25" width="9.4" height="63.25" fill="#fff" stroke-width="1.5"/>
<line x1="129.1" y1="800.7" x2="129.1" y2="802.6" stroke-width="1.5"/>
<line x1="126.55" y1="800.7" x2="131.65" y2="800.7" stroke-width="1.5"/>
<rect x="124" y="802.6" width="10.2" height="4.9" fill="#000" stroke="none"/>
<line x1="143.5" y1="787.1" x2="143.5" y2="790.1" stroke-width="1.5"/>
<line x1="140.75" y1="787.1" x2="146.25" y2="787.1" stroke-width="1.5"/>
<rect x="138.75" y="790.85" width="9.5" height="16.65" fill="#fff" stroke-width="1.5"/>
<line x1="80" y1="681.1" x2="80" y2="807.5" stroke-width="2.0"/>
<line x1="75" y1="807.5" x2="155" y2="807.5" stroke-width="2.0"/>
<circle cx="102.45" cy="704.3" r="1.25" stroke="none"/>
<circle cx="105.9" cy="704.3" r="1.25" stroke="none"/>
<circle cx="109.35" cy="704.3" r="1.25" stroke="none"/>
<text stroke="#000" stroke-width="0.3" x="143.6" y="781.46" text-anchor="middle" font-size="8.3" font-weight="normal">NS</text>
<text stroke="#000" stroke-width="0.3" x="77" y="819.93" text-anchor="end" font-size="8.5"><tspan font-weight="normal">α</tspan>G-CSF treatment:</text>
<text stroke="#000" stroke-width="0.3" x="99.7" y="819.53" text-anchor="middle" font-size="8.5">d0</text>
<text stroke="#000" stroke-width="0.3" x="137.3" y="819.53" text-anchor="middle" font-size="8.5">d5</text>
<text stroke="#000" stroke-width="0.3" x="186.5" y="679.57" text-anchor="middle" font-size="15">F</text>
<text stroke="#000" stroke-width="0.3" transform="translate(217.6,736.4) rotate(-90)" x="0" y="3.54" text-anchor="middle" font-size="10.25">PMN frequency in blood (%)</text>
<line x1="240" y1="682.3" x2="245" y2="682.3" stroke-width="1.8"/>
<text stroke="#000" stroke-width="0.3" x="238.5" y="686.27" text-anchor="end" font-size="8.6">80</text>
<line x1="240" y1="713.6" x2="245" y2="713.6" stroke-width="1.8"/>
<text stroke="#000" stroke-width="0.3" x="238.5" y="717.57" text-anchor="end" font-size="8.6">60</text>
<line x1="240" y1="744.9" x2="245" y2="744.9" stroke-width="1.8"/>
<text stroke="#000" stroke-width="0.3" x="238.5" y="748.87" text-anchor="end" font-size="8.6">40</text>
<line x1="240" y1="776.2" x2="245" y2="776.2" stroke-width="1.8"/>
<text stroke="#000" stroke-width="0.3" x="238.5" y="780.17" text-anchor="end" font-size="8.6">20</text>
<line x1="240" y1="807.5" x2="245" y2="807.5" stroke-width="1.8"/>
<text stroke="#000" stroke-width="0.3" x="238.5" y="811.47" text-anchor="end" font-size="8.6">0</text>
<line x1="256.6" y1="760.1" x2="256.6" y2="773.5" stroke-width="1.5"/>
<line x1="254" y1="760.1" x2="259.2" y2="760.1" stroke-width="1.5"/>
<rect x="251.4" y="773.5" width="10.4" height="34" fill="#000" stroke="none"/>
<line x1="270.45" y1="694.6" x2="270.45" y2="721" stroke-width="1.5"/>
<line x1="267.73" y1="694.6" x2="273.17" y2="694.6" stroke-width="1.5"/>
<rect x="265.75" y="721.75" width="9.4" height="85.75" fill="#fff" stroke-width="1.5"/>
<rect x="289.1" y="782" width="10.6" height="25.5" fill="#000" stroke="none"/>
<line x1="308.35" y1="692.6" x2="308.35" y2="719" stroke-width="1.5"/>
<line x1="305.62" y1="692.6" x2="311.08" y2="692.6" stroke-width="1.5"/>
<rect x="303.65" y="719.75" width="9.4" height="87.75" fill="#fff" stroke-width="1.5"/>
<line x1="245" y1="681.4" x2="245" y2="807.5" stroke-width="2.0"/>
<line x1="240" y1="807.5" x2="319.6" y2="807.5" stroke-width="2.0"/>
<circle cx="270.8" cy="683.6" r="1.25" stroke="none"/>
<circle cx="308.1" cy="683.6" r="1.25" stroke="none"/>
<text stroke="#000" stroke-width="0.3" x="242.8" y="819.83" text-anchor="end" font-size="8.5">IL-1Ra treatment:</text>
<text stroke="#000" stroke-width="0.3" x="264.8" y="819.23" text-anchor="middle" font-size="8.5">d0</text>
<text stroke="#000" stroke-width="0.3" x="302" y="819.23" text-anchor="middle" font-size="8.5">d5</text>
<text stroke="#000" stroke-width="0.3" x="360.9" y="677.57" text-anchor="middle" font-size="15">G</text>
<text stroke="#000" stroke-width="0.3" transform="translate(374.6,744.8) rotate(-90)" x="0" y="3.59" text-anchor="middle" font-size="10.4">Body weight (g)</text>
<line x1="397.9" y1="681.8" x2="402.9" y2="681.8" stroke-width="1.8"/>
<text stroke="#000" stroke-width="0.3" x="396.4" y="685.77" text-anchor="end" font-size="8.6">18</text>
<line x1="397.9" y1="713.1" x2="402.9" y2="713.1" stroke-width="1.8"/>
<text stroke="#000" stroke-width="0.3" x="396.4" y="717.07" text-anchor="end" font-size="8.6">16</text>
<line x1="397.9" y1="744.4" x2="402.9" y2="744.4" stroke-width="1.8"/>
<text stroke="#000" stroke-width="0.3" x="396.4" y="748.37" text-anchor="end" font-size="8.6">14</text>
<line x1="397.9" y1="775.7" x2="402.9" y2="775.7" stroke-width="1.8"/>
<text stroke="#000" stroke-width="0.3" x="396.4" y="779.67" text-anchor="end" font-size="8.6">12</text>
<line x1="397.9" y1="807.4" x2="402.9" y2="807.4" stroke-width="1.8"/>
<text stroke="#000" stroke-width="0.3" x="396.4" y="811.37" text-anchor="end" font-size="8.6">10</text>
<line x1="414.1" y1="753" x2="414.1" y2="761" stroke-width="1.5"/>
<line x1="411.6" y1="753" x2="416.6" y2="753" stroke-width="1.5"/>
<rect x="409.1" y="761" width="10" height="46.4" fill="#000" stroke="none"/>
<line x1="428.4" y1="773.8" x2="428.4" y2="782" stroke-width="1.5"/>
<line x1="425.7" y1="773.8" x2="431.1" y2="773.8" stroke-width="1.5"/>
<rect x="423.75" y="782.75" width="9.3" height="24.65" fill="#fff" stroke-width="1.5"/>
<line x1="451.77" y1="723.1" x2="451.77" y2="740.2" stroke-width="1.5"/>
<line x1="449.26" y1="723.1" x2="454.29" y2="723.1" stroke-width="1.5"/>
<rect x="446.75" y="740.2" width="10.05" height="67.2" fill="#000" stroke="none"/>
<line x1="465.85" y1="721.2" x2="465.85" y2="739.5" stroke-width="1.5"/>
<line x1="463.03" y1="721.2" x2="468.68" y2="721.2" stroke-width="1.5"/>
<rect x="460.95" y="740.25" width="9.8" height="67.15" fill="#fff" stroke-width="1.5"/>
<line x1="489.7" y1="702.2" x2="489.7" y2="730.4" stroke-width="1.5"/>
<line x1="487.2" y1="702.2" x2="492.2" y2="702.2" stroke-width="1.5"/>
<rect x="484.7" y="730.4" width="10" height="77" fill="#000" stroke="none"/>
<line x1="503.6" y1="684" x2="503.6" y2="713.9" stroke-width="1.5"/>
<line x1="500.9" y1="684" x2="506.3" y2="684" stroke-width="1.5"/>
<rect x="498.95" y="714.65" width="9.3" height="92.75" fill="#fff" stroke-width="1.5"/>
<line x1="402.9" y1="680.9" x2="402.9" y2="807.4" stroke-width="2.0"/>
<line x1="397.9" y1="807.4" x2="515" y2="807.4" stroke-width="2.0"/>
<circle cx="427.27" cy="762.4" r="1.25" stroke="none"/>
<circle cx="430.72" cy="762.4" r="1.25" stroke="none"/>
<text stroke="#000" stroke-width="0.3" x="465.4" y="716.46" text-anchor="middle" font-size="8.3" font-weight="normal">NS</text>
<text stroke="#000" stroke-width="0.3" x="504.6" y="678.96" text-anchor="middle" font-size="8.3" font-weight="normal">NS</text>
<text stroke="#000" stroke-width="0.3" x="401.9" y="819.43" text-anchor="end" font-size="8.5">IL-1Ra treatment:</text>
<text stroke="#000" stroke-width="0.3" x="420.9" y="819.23" text-anchor="middle" font-size="8.5">d0</text>
<text stroke="#000" stroke-width="0.3" x="458.4" y="819.23" text-anchor="middle" font-size="8.5">d5</text>
<text stroke="#000" stroke-width="0.3" x="497.5" y="819.23" text-anchor="middle" font-size="8.5">d10</text>
</g>
</svg>
</body></html>
